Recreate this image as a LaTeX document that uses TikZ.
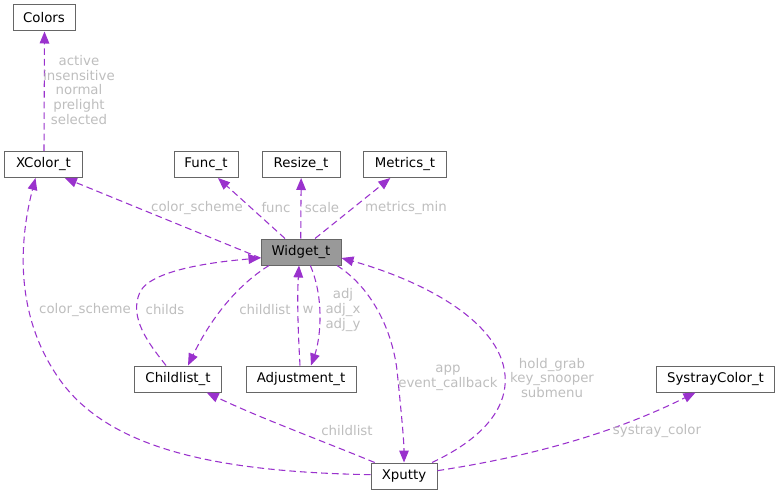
\documentclass[tikz,border=0pt]{standalone}
\usepackage{fontspec}
\setmainfont{DejaVu Sans}
\usetikzlibrary{arrows.meta}
\definecolor{edgec}{HTML}{9A32CD}
\definecolor{labc}{HTML}{BEBEBE}
\definecolor{boxc}{HTML}{666666}
\definecolor{hilite}{HTML}{999999}
\tikzset{
  cls/.style={draw=boxc, line width=0.75pt, fill=white, inner sep=0pt, minimum height=19.5pt, font=\fontsize{10pt}{11pt}\selectfont, text=black},
  rel/.style={draw=edgec, line width=0.8pt, dash pattern=on 5pt off 3pt, -{Triangle[length=9pt,width=7.2pt]}},
  lab/.style={text=labc, font=\fontsize{10pt}{10.9pt}\selectfont, align=center, inner sep=0pt}
}
\begin{document}
\begin{tikzpicture}[x=0.75pt,y=-0.75pt]
\useasboundingbox (0,0) rectangle (780,495);
% nodes
\node[cls, minimum width=46.5pt] (colors) at (44,18) {Colors};
\node[cls, minimum width=58.5pt] (xcolor) at (43.5,164.5) {XColor\_t};
\node[cls, minimum width=48pt] (func) at (206,164.5) {Func\_t};
\node[cls, minimum width=58.5pt] (resize) at (301,164.5) {Resize\_t};
\node[cls, minimum width=62.5pt] (metrics) at (405,164.5) {Metrics\_t};
\node[cls, fill=hilite, minimum width=60pt] (widget) at (301,252) {Widget\_t};
\node[cls, minimum width=65pt] (childlist) at (178,379) {Childlist\_t};
\node[cls, minimum width=82.5pt] (adjust) at (301,379) {Adjustment\_t};
\node[cls, minimum width=88.5pt] (systray) at (715.5,379) {SystrayColor\_t};
\node[cls, minimum width=49.5pt] (xputty) at (404,476) {Xputty};

% XColor -> Colors
\draw[rel] ([xshift=0.375pt]xcolor.north) -- ([xshift=0.375pt]colors.south);
\node[lab] (l1) at (79,90) {active\\insensitive\\normal\\prelight\\selected};

% Widget -> XColor
\draw[rel] ([yshift=-4.5pt]widget.west) -- ([xshift=16pt]xcolor.south);
\node[lab] (l2) at (197,208) {color\_scheme};
% Widget -> Func
\draw[rel] ([xshift=-12pt]widget.north) -- ([xshift=9pt]func.south);
\node[lab] (l3) at (276,208) {func};
% Widget -> Resize
\draw[rel] ([xshift=-0.2pt]widget.north) -- ([xshift=0.1pt]resize.south);
\node[lab] (l4) at (322,208) {scale};
% Widget -> Metrics
\draw[rel] ([xshift=10.5pt]widget.north) -- ([xshift=-11pt]metrics.south);
\node[lab] (l5) at (406,208) {metrics\_min};

% Childlist -> Widget (childs)
\draw[rel] ([xshift=-9pt]childlist.north) .. controls (150,345) and (128,318) .. (140,292)
  .. controls (152,268) and (225,261) .. ([yshift=-4.5pt]widget.west);
\node[lab] (l6) at (165,310) {childs};
% Widget -> Childlist (childlist)
\draw[rel] ([xshift=-24pt]widget.south) .. controls (236,286) and (210,320) .. ([xshift=7.5pt]childlist.north);
\node[lab] (l7) at (265,310) {childlist};
% Adjustment -> Widget (w)
\draw[rel] ([xshift=-0.75pt]adjust.north) .. controls (298,330) and (297,300) .. ([xshift=-1.5pt]widget.south);
\node[lab] (l8) at (308,310) {w};
% Widget -> Adjustment
\draw[rel] ([xshift=7pt]widget.south) .. controls (325,300) and (320,340) .. ([xshift=7.5pt]adjust.north);
\node[lab] (l9) at (343,310) {adj\\adj\_x\\adj\_y};

% Widget -> Xputty (app)
\draw[rel] ([xshift=27pt]widget.south) .. controls (372,288) and (392,330) .. (397,370)
  .. controls (401,410) and (404,440) .. (xputty.north);
\node[lab] (l10) at (448,378) {app\\event\_callback};
% Xputty -> Widget (hold_grab)
\draw[rel] ([xshift=21pt]xputty.north) .. controls (480,440) and (508,410) .. (505,375)
  .. controls (500,320) and (420,280) .. ([yshift=-4.5pt]widget.east);
\node[lab] (l11) at (552,378) {hold\_grab\\key\_snooper\\submenu};

% Xputty -> Childlist
\draw[rel] ([xshift=-22pt]xputty.north) .. controls (320,440) and (260,418) .. ([xshift=21.5pt]childlist.south);
\node[lab] (l12) at (347,431) {childlist};
% Xputty -> XColor (color_scheme)
\draw[rel] ([yshift=1pt]xputty.west) .. controls (220,472) and (110,450) .. (60,380)
  .. controls (10,310) and (22,230) .. ([xshift=-6pt]xcolor.south);
\node[lab] (l13) at (85,310) {color\_scheme};
% Xputty -> Systray
\draw[rel] ([yshift=4pt]xputty.east) .. controls (540,455) and (620,430) .. ([xshift=-15pt]systray.south);
\node[lab] (l14) at (657,431) {systray\_color};
\end{tikzpicture}
\end{document}
